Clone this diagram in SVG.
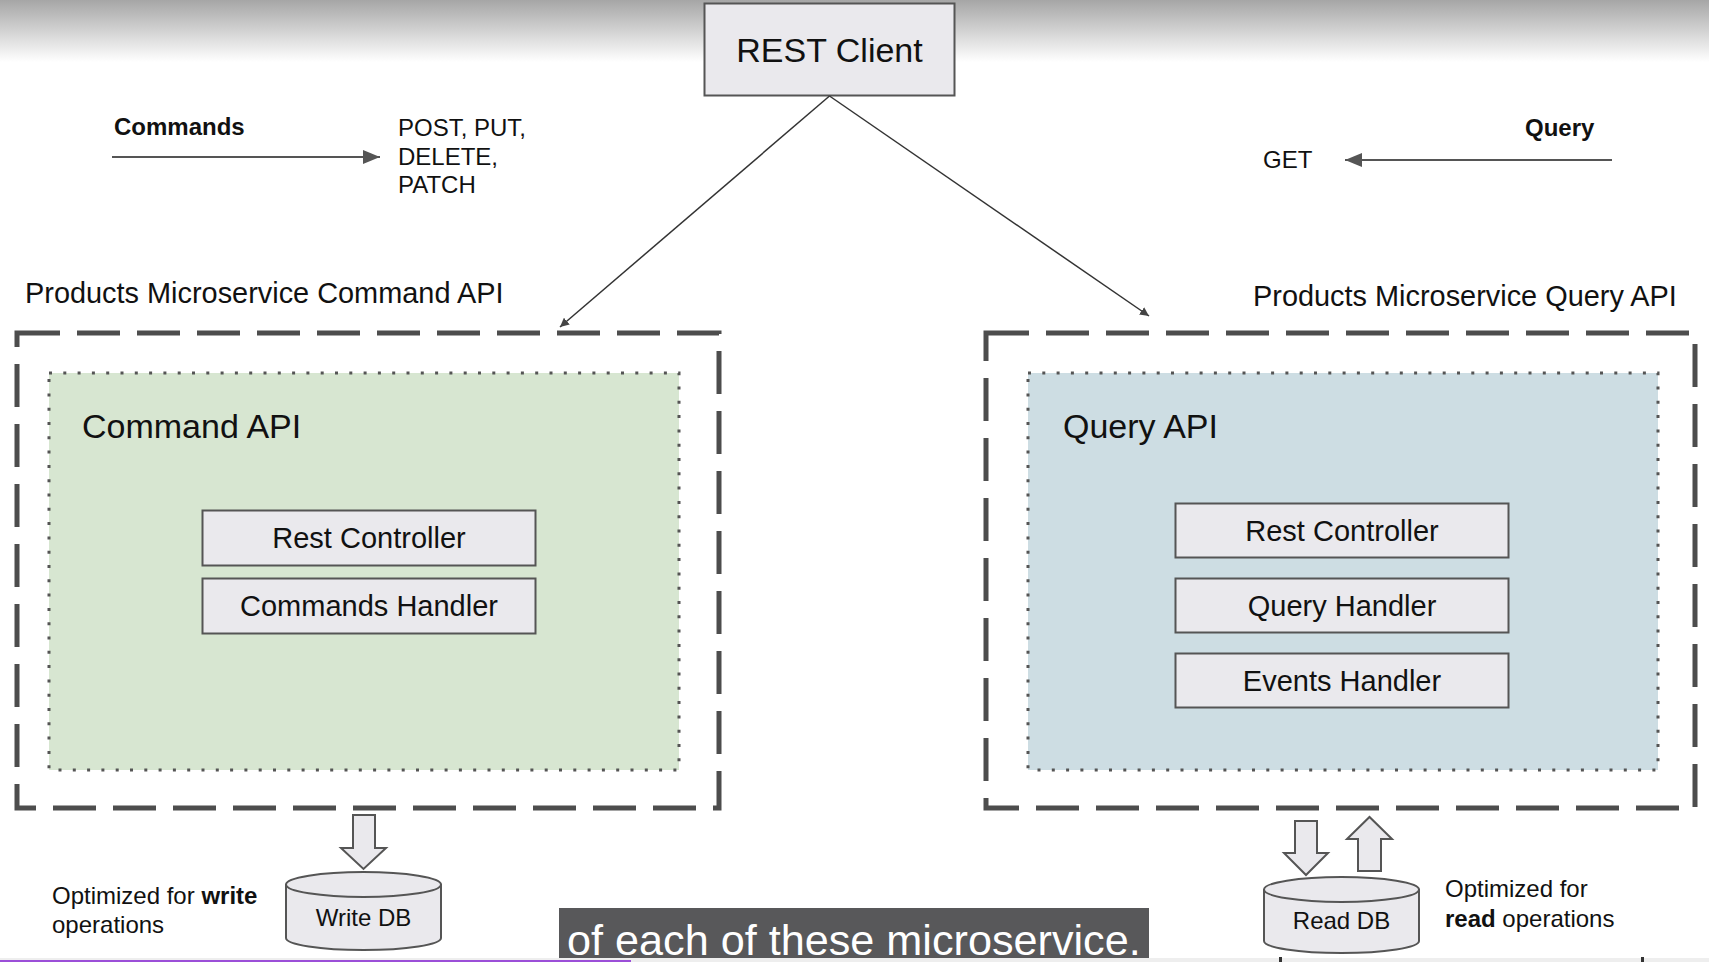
<svg xmlns="http://www.w3.org/2000/svg" width="1709" height="962" viewBox="0 0 1709 962">
<defs>
<linearGradient id="topfade" x1="0" y1="0" x2="0" y2="1">
<stop offset="0" stop-color="#a6a6a6"/>
<stop offset="1" stop-color="#ffffff"/>
</linearGradient>
<marker id="ah" viewBox="0 0 10 10" refX="10" refY="5" markerWidth="9" markerHeight="9" markerUnits="userSpaceOnUse" orient="auto">
<path d="M0,0 L10,5 L0,10 Z" fill="#444"/>
</marker>
<marker id="ah2" viewBox="0 0 10 10" refX="10" refY="5" markerWidth="17" markerHeight="14" markerUnits="userSpaceOnUse" orient="auto" preserveAspectRatio="none">
<path d="M0,0 L10,5 L0,10 Z" fill="#555"/>
</marker>
</defs>
<style>
text{font-family:"Liberation Sans",Arial,sans-serif;fill:#111;}
.box{fill:#eae9ed;stroke:#555;stroke-width:2;}
.outer{fill:none;stroke:#4d4d4d;stroke-width:5;stroke-dasharray:43 17;}
.inner{stroke:#555;stroke-width:3;stroke-dasharray:3 11.3;}
.lbl{font-size:29px;text-anchor:middle;}
.db{fill:#eae9ed;stroke:#555;stroke-width:2;}
.conn{stroke:#333;stroke-width:1.5;fill:none;}
.legend{stroke:#555;stroke-width:2;fill:none;}
.sm{font-size:24px;}
</style>
<rect x="0" y="0" width="1709" height="962" fill="#ffffff"/>
<rect x="0" y="0" width="1709" height="62" fill="url(#topfade)"/>

<g id="rest-client">
<rect class="box" x="704.5" y="3.5" width="250" height="92"/>
<text x="829.5" y="62" font-size="34" text-anchor="middle">REST Client</text>
</g>

<g id="legend-commands">
<text class="sm" x="114" y="135" font-weight="bold">Commands</text>
<text class="sm" x="398" y="136">POST, PUT,</text>
<text class="sm" x="398" y="165">DELETE,</text>
<text class="sm" x="398" y="193">PATCH</text>
</g>
<g id="legend-query">
<text class="sm" x="1525" y="136" font-weight="bold">Query</text>
<text class="sm" x="1263" y="168">GET</text>
</g>

<g id="command-service">
<text x="25" y="303" font-size="28.9">Products Microservice Command API</text>
<rect class="outer" x="17" y="333" width="702" height="475"/>
<rect class="inner" x="49" y="373" width="630" height="397" fill="#d7e6d1"/>
<text x="82" y="438" font-size="34">Command API</text>
</g>
<g id="cmd-rest-controller">
<rect class="box" x="202.5" y="510.5" width="333" height="55"/>
<text class="lbl" x="369" y="548">Rest Controller</text>
</g>
<g id="commands-handler">
<rect class="box" x="202.5" y="578.5" width="333" height="55"/>
<text class="lbl" x="369" y="616">Commands Handler</text>
</g>

<g id="query-service">
<text x="1253" y="306" font-size="28.9">Products Microservice Query API</text>
<rect class="outer" x="986" y="333" width="709" height="475"/>
<rect class="inner" x="1028" y="373" width="630" height="397" fill="#cddde3"/>
<text x="1063" y="438" font-size="34">Query API</text>
</g>
<g id="query-rest-controller">
<rect class="box" x="1175.5" y="503.5" width="333" height="54"/>
<text class="lbl" x="1342" y="540.5">Rest Controller</text>
</g>
<g id="query-handler">
<rect class="box" x="1175.5" y="578.5" width="333" height="54"/>
<text class="lbl" x="1342" y="615.5">Query Handler</text>
</g>
<g id="events-handler">
<rect class="box" x="1175.5" y="653.5" width="333" height="54"/>
<text class="lbl" x="1342" y="690.5">Events Handler</text>
</g>

<g id="write-db">
<path class="db" d="M286,884 L286,938 A77.5,12 0 0 0 441,938 L441,884"/>
<ellipse class="db" cx="363.5" cy="884.5" rx="77.5" ry="12.5"/>
<text x="363.5" y="926" font-size="24" text-anchor="middle">Write DB</text>
<text class="sm" x="52" y="904">Optimized for <tspan font-weight="bold">write</tspan></text>
<text class="sm" x="52" y="933">operations</text>
</g>

<g id="read-db">
<path class="db" d="M1264,889 L1264,941 A77.5,12 0 0 0 1419,941 L1419,889"/>
<ellipse class="db" cx="1341.5" cy="889.5" rx="77.5" ry="12.5"/>
<text x="1341.5" y="929" font-size="24" text-anchor="middle">Read DB</text>
<text class="sm" x="1445" y="897">Optimized for</text>
<text class="sm" x="1445" y="927"><tspan font-weight="bold">read</tspan> operations</text>
</g>

<g id="connectors">
<line class="conn" x1="829.5" y1="96" x2="560" y2="327" marker-end="url(#ah)"/>
<line class="conn" x1="829.5" y1="96" x2="1149" y2="316" marker-end="url(#ah)"/>
<line class="legend" x1="112" y1="157" x2="380" y2="157" marker-end="url(#ah2)"/>
<line class="legend" x1="1612" y1="160" x2="1345" y2="160" marker-end="url(#ah2)"/>
<path class="db" d="M353,815 L375,815 L375,848 L386,848 L363.5,869 L341,848 L353,848 Z"/>
<path class="db" d="M1295,821 L1317,821 L1317,853 L1328,853 L1306,875 L1284,853 L1295,853 Z"/>
<path class="db" d="M1358,871 L1381,871 L1381,839 L1392,839 L1369.5,817 L1347,839 L1358,839 Z"/>
</g>

<g id="caption">
<rect x="559" y="908" width="590" height="54" fill="#58585a"/>
<text x="567" y="955" font-size="43.2" style="fill:#ffffff">of each of these microservice.</text>
</g>
<rect x="0" y="958" width="1709" height="4" fill="#eeeeee"/>
<rect x="0" y="960" width="631" height="2" fill="#9b4fd8"/>
<rect x="1279" y="957" width="3" height="5" fill="#333"/>
<rect x="1641" y="957" width="3" height="5" fill="#333"/>
</svg>
